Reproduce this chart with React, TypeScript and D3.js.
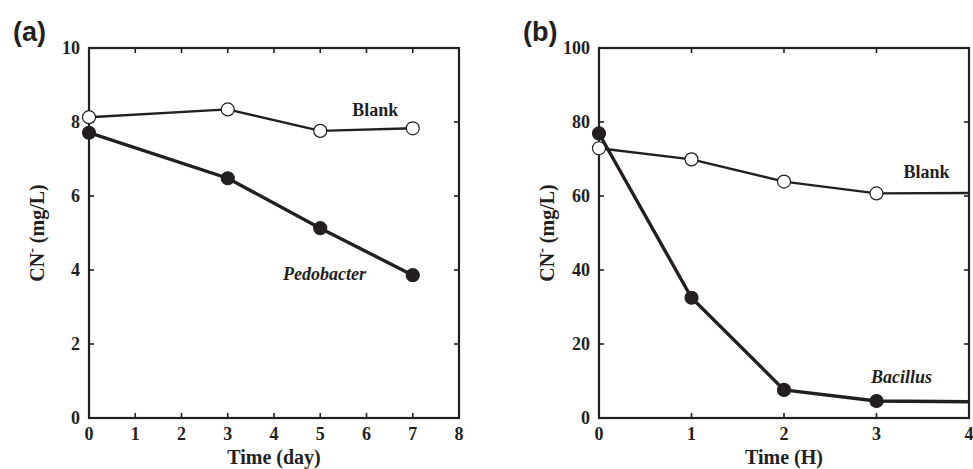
import React from "react";
import * as d3 from "d3";

// panel (a)
const daysA = [0, 3, 5, 7];
const blankA = [8.13, 8.34, 7.76, 7.83];
const pedobacter = [7.71, 6.48, 5.13, 3.86];
const xTicksA = [0, 1, 2, 3, 4, 5, 6, 7, 8];
const yTicksA = [0, 2, 4, 6, 8, 10];

// panel (b)
const hoursB = [0, 1, 2, 3];
const blankB = [72.9, 69.9, 63.9, 60.7];
const bacillus = [76.9, 32.5, 7.6, 4.6];
// lines carry on to the right frame without a marker
const blankBEnd = 60.8;
const bacillusEnd = 4.4;
const xTicksB = [0, 1, 2, 3, 4];
const yTicksB = [0, 20, 40, 60, 80, 100];

const serif = "'Liberation Serif', 'Times New Roman', serif";
const sans = "'Liberation Sans', Arial, sans-serif";
const ink = "#231f20";

type Series = {
  xs: number[];
  ys: number[];
  open: boolean;
  width: number;
  tail?: [number, number];
};

type Label = { text: string; x: number; y: number; italic?: boolean };

const Panel = ({
  left,
  tag,
  xMax,
  yMax,
  xTicks,
  yTicks,
  xTitle,
  series,
  labels,
}: {
  left: number;
  tag: string;
  xMax: number;
  yMax: number;
  xTicks: number[];
  yTicks: number[];
  xTitle: string;
  series: Series[];
  labels: Label[];
}) => {
  const top = 48;
  const bottom = 418;
  const w = 370;
  const x = d3.scaleLinear().domain([0, xMax]).range([left, left + w]);
  const y = d3.scaleLinear().domain([0, yMax]).range([bottom, top]);
  const line = d3
    .line<[number, number]>()
    .x((d) => x(d[0]))
    .y((d) => y(d[1]));
  const tk = 5;

  return (
    <g>
      <text x={left - 76} y={41} fontFamily={sans} fontWeight="bold" fontSize="27" fill={ink}>
        {tag}
      </text>

      {/* frame */}
      <rect
        x={left}
        y={top}
        width={w}
        height={bottom - top}
        fill="none"
        stroke={ink}
        strokeWidth="2.2"
      />

      {/* ticks, all inward */}
      {xTicks.map((t) => (
        <g key={"x" + t}>
          <line x1={x(t)} x2={x(t)} y1={bottom} y2={bottom - tk} stroke={ink} strokeWidth="1.6" />
          <line x1={x(t)} x2={x(t)} y1={top} y2={top + tk} stroke={ink} strokeWidth="1.6" />
          <text
            x={x(t)}
            y={bottom + 22}
            textAnchor="middle"
            fontFamily={serif}
            fontWeight="bold"
            fontSize="18"
            fill={ink}
          >
            {t}
          </text>
        </g>
      ))}
      {yTicks.map((t) => (
        <g key={"y" + t}>
          <line x1={left} x2={left + tk} y1={y(t)} y2={y(t)} stroke={ink} strokeWidth="1.6" />
          <line x1={left + w} x2={left + w - tk} y1={y(t)} y2={y(t)} stroke={ink} strokeWidth="1.6" />
          <text
            x={left - 9}
            y={y(t) + 6}
            textAnchor="end"
            fontFamily={serif}
            fontWeight="bold"
            fontSize="18"
            fill={ink}
          >
            {t}
          </text>
        </g>
      ))}

      {/* axis titles */}
      <text
        x={left + w / 2}
        y={464}
        textAnchor="middle"
        fontFamily={serif}
        fontWeight="bold"
        fontSize="20"
        fill={ink}
      >
        {xTitle}
      </text>
      <text
        transform={`translate(${left - 45},${(top + bottom) / 2}) rotate(-90)`}
        textAnchor="middle"
        fontFamily={serif}
        fontWeight="bold"
        fontSize="20"
        fill={ink}
      >
        CN
        <tspan dy="-8" fontSize="14">-</tspan>
        <tspan dy="8">{"  (mg/L)"}</tspan>
      </text>

      {/* series */}
      {series.map((s, i) => {
        const pts: [number, number][] = s.xs.map((v, j) => [v, s.ys[j]]);
        const path = s.tail ? [...pts, s.tail] : pts;
        return (
          <g key={i}>
            <path d={line(path) || ""} fill="none" stroke={ink} strokeWidth={s.width} />
            {pts.map((p, j) => (
              <circle
                key={j}
                cx={x(p[0])}
                cy={y(p[1])}
                r="6.5"
                fill={s.open ? "#fff" : ink}
                stroke={ink}
                strokeWidth="1.2"
              />
            ))}
          </g>
        );
      })}

      {labels.map((l, i) => (
        <text
          key={i}
          x={x(l.x)}
          y={y(l.y)}
          textAnchor="middle"
          fontFamily={serif}
          fontWeight="bold"
          fontStyle={l.italic ? "italic" : "normal"}
          fontSize="18"
          fill={ink}
        >
          {l.text}
        </text>
      ))}
    </g>
  );
};

export default function App() {
  return (
    <svg width={973} height={469} style={{ position: "absolute", left: 0, top: 0 }}>
      <rect width={973} height={469} fill="#fff" />
      <Panel
        left={89}
        tag="(a)"
        xMax={8}
        yMax={10}
        xTicks={xTicksA}
        yTicks={yTicksA}
        xTitle="Time (day)"
        series={[
          { xs: daysA, ys: blankA, open: true, width: 2.4 },
          { xs: daysA, ys: pedobacter, open: false, width: 3.4 },
        ]}
        labels={[
          { text: "Blank", x: 6.19, y: 8.16 },
          { text: "Pedobacter", x: 5.09, y: 3.73, italic: true },
        ]}
      />
      <Panel
        left={599}
        tag="(b)"
        xMax={4}
        yMax={100}
        xTicks={xTicksB}
        yTicks={yTicksB}
        xTitle="Time (H)"
        series={[
          { xs: hoursB, ys: blankB, open: true, width: 2.4, tail: [4, blankBEnd] },
          { xs: hoursB, ys: bacillus, open: false, width: 3.4, tail: [4, bacillusEnd] },
        ]}
        labels={[
          { text: "Blank", x: 3.54, y: 64.9 },
          { text: "Bacillus", x: 3.27, y: 9.46, italic: true },
        ]}
      />
    </svg>
  );
}
